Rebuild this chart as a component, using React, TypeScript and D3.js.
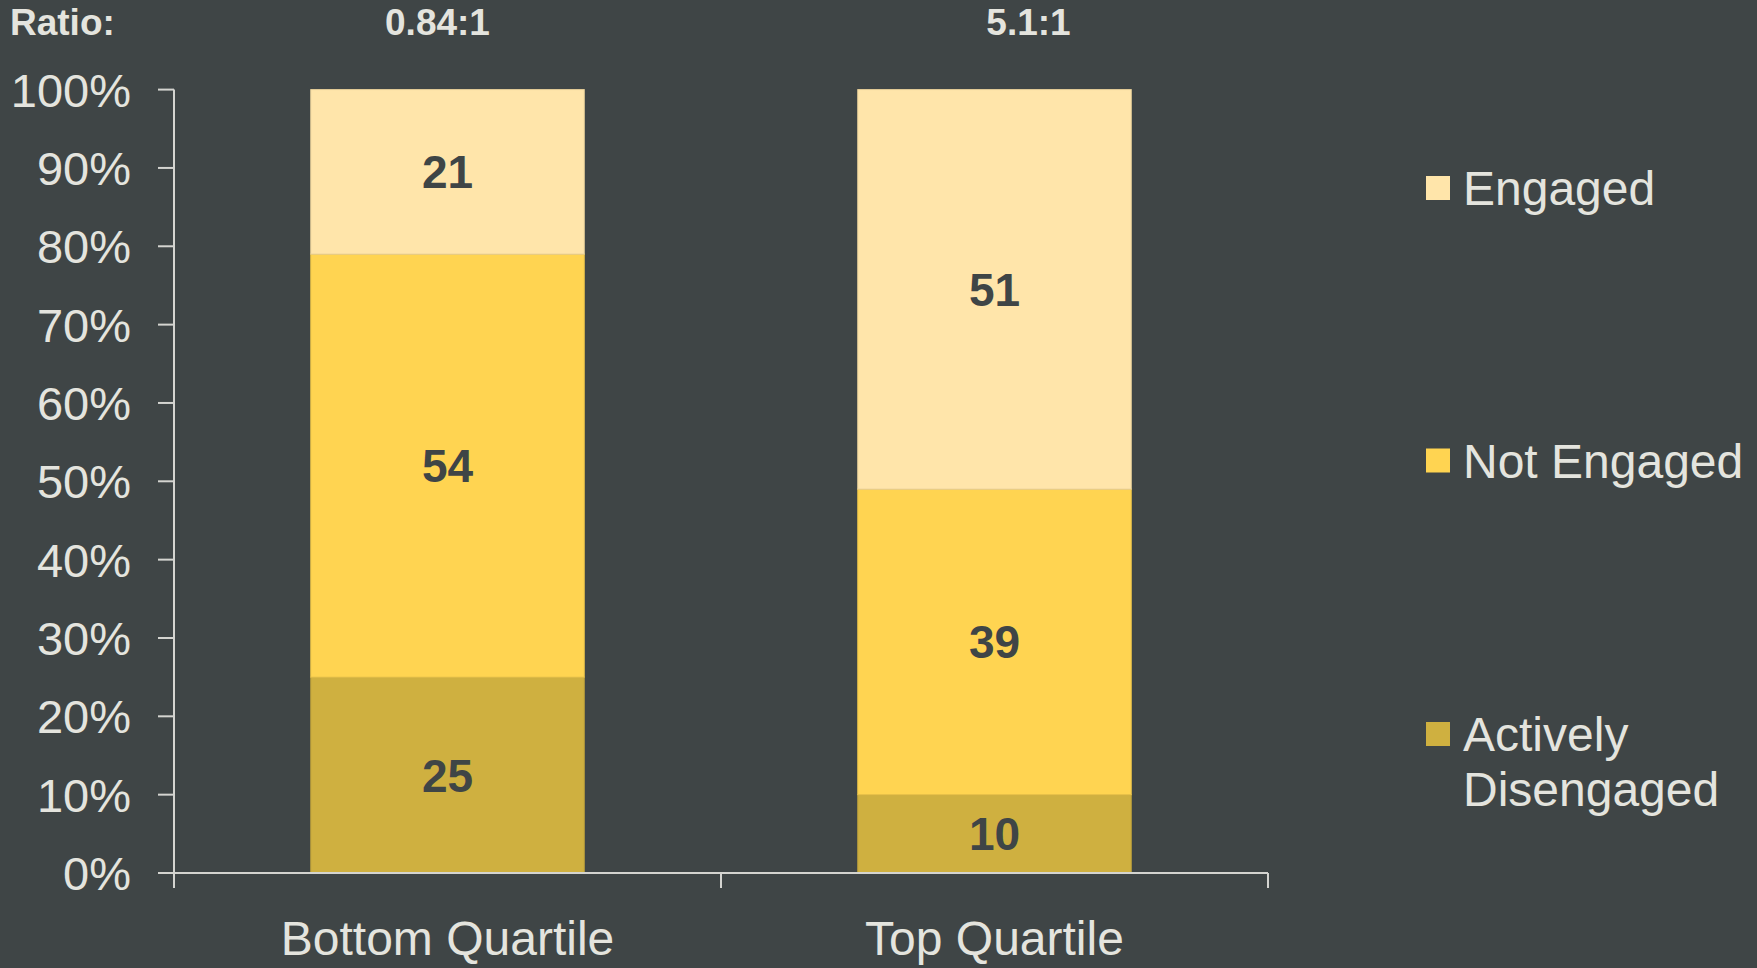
import React from "react";
import * as d3 from "d3";

const categories = ["Bottom Quartile", "Top Quartile"];
const seriesNames = ["Actively Disengaged", "Not Engaged", "Engaged"];
const activelyDisengaged = [25, 10];
const notEngaged = [54, 39];
const engaged = [21, 51];
const ratioLabels = ["0.84:1", "5.1:1"];
const yTicks = [0, 10, 20, 30, 40, 50, 60, 70, 80, 90, 100];
const legendLabels = [["Engaged"], ["Not Engaged"], ["Actively", "Disengaged"]];

const W = 1757;
const H = 968;
const BG = "#3f4546";
const TEXT = "#e4e4de";
const AXIS = "#d4d4d0";
const COLORS: Record<string, string> = {
  "Actively Disengaged": "#cfb040",
  "Not Engaged": "#ffd451",
  Engaged: "#ffe5aa",
};
const FONT = "'Liberation Sans', Arial, Helvetica, sans-serif";

export default function App() {
  const left = 174;
  const right = 1268;
  const top = 89.6;
  const bottom = 873;

  const x = d3.scaleBand<string>().domain(categories).range([left, right]).paddingInner(0.5).paddingOuter(0.25);
  const y = d3.scaleLinear().domain([0, 100]).range([bottom, top]);

  const table = categories.map((c, i) => ({
    cat: c,
    "Actively Disengaged": activelyDisengaged[i],
    "Not Engaged": notEngaged[i],
    Engaged: engaged[i],
  }));
  const stacked = d3.stack<any>().keys(seriesNames)(table);

  const step = x.step();
  const boundaries = [left, left + step, right];

  const ratioOffsets = [-10, 34];
  const legendX = 1426;
  const legendY = [188, 460.5, 734];

  return (
    <svg width={W} height={H} style={{ position: "absolute", left: 0, top: 0, background: BG }} fontFamily={FONT}>
      <rect x={0} y={0} width={W} height={H} fill={BG} />
      {/* Ratio header */}
      <text x={10} y={22} dy="0.35em" fill={TEXT} fontSize={37} fontWeight="bold">Ratio:</text>
      {categories.map((c, i) => (
        <text key={c} x={(x(c) as number) + x.bandwidth() / 2 + ratioOffsets[i]} y={22} dy="0.35em"
          textAnchor="middle" fill={TEXT} fontSize={37} fontWeight="bold">{ratioLabels[i]}</text>
      ))}
      {/* bars */}
      {stacked.map((s) => (
        <g key={s.key}>
          {s.map((d, i) => (
            <rect key={i} x={x(categories[i])} width={x.bandwidth()} y={y(d[1])} height={y(d[0]) - y(d[1])}
              fill={COLORS[s.key]} stroke={d3.color(COLORS[s.key])!.darker(0.25).formatHex()} strokeWidth={1} />
          ))}
        </g>
      ))}
      {/* value labels */}
      {stacked.map((s) => (
        <g key={s.key + "l"}>
          {s.map((d, i) => (
            <text key={i} x={(x(categories[i]) as number) + x.bandwidth() / 2} y={y((d[0] + d[1]) / 2)} dy="0.36em"
              textAnchor="middle" fill={BG} fontSize={46} fontWeight="bold">{d[1] - d[0]}</text>
          ))}
        </g>
      ))}
      {/* y axis */}
      <line x1={left} x2={left} y1={top} y2={bottom} stroke={AXIS} strokeWidth={2} />
      {yTicks.map((t) => (
        <g key={t}>
          <line x1={left - 16} x2={left} y1={y(t)} y2={y(t)} stroke={AXIS} strokeWidth={2} />
          <text x={131} y={y(t)} dy="0.36em" textAnchor="end" fill={TEXT} fontSize={47}>{t}%</text>
        </g>
      ))}
      {/* x axis */}
      <line x1={left} x2={right} y1={bottom} y2={bottom} stroke={AXIS} strokeWidth={2} />
      {boundaries.map((b, i) => (
        <line key={i} x1={b} x2={b} y1={bottom} y2={bottom + 15} stroke={AXIS} strokeWidth={2} />
      ))}
      {categories.map((c) => (
        <text key={c} x={(x(c) as number) + x.bandwidth() / 2} y={938} dy="0.36em" textAnchor="middle"
          fill={TEXT} fontSize={48}>{c}</text>
      ))}
      {/* legend */}
      {legendLabels.map((lines, i) => {
        const key = seriesNames[seriesNames.length - 1 - i];
        return (
          <g key={key}>
            <rect x={legendX} y={legendY[i] - 12} width={24} height={24} fill={COLORS[key]} />
            {lines.map((ln, j) => (
              <text key={j} x={legendX + 37} y={legendY[i] + j * 55} dy="0.36em" fill={TEXT} fontSize={48}>{ln}</text>
            ))}
          </g>
        );
      })}
    </svg>
  );
}
